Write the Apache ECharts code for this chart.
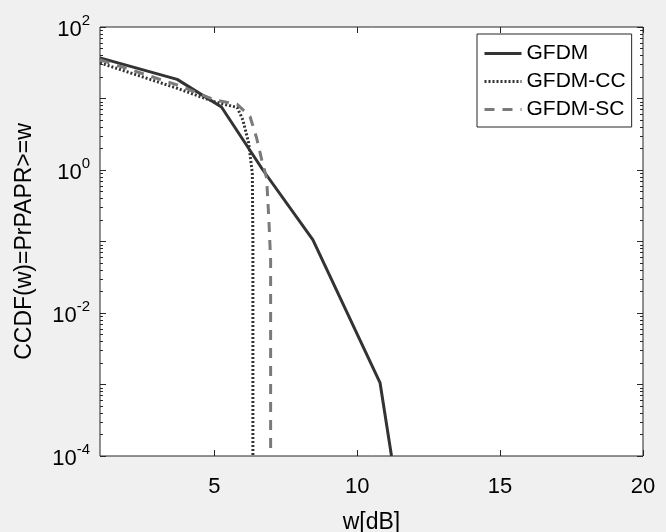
<!DOCTYPE html>
<html>
<head>
<meta charset="utf-8">
<script src="https://cdn.jsdelivr.net/npm/echarts@6/dist/echarts.min.js"></script>
<style>
html,body{margin:0;padding:0;background:#f0f0f0;}
#chart{width:666px;height:532px;}
</style>
</head>
<body>
<div id="chart"></div>
<script>
// ---- data ----
const seriesNames = ['GFDM', 'GFDM-CC', 'GFDM-SC'];
const xGFDM = [1, 3.7, 5.25, 6.7, 8.45, 10.8, 11.2];
const yGFDM = [37, 18.5, 7.6, 1.0, 0.105, 0.00105, 0.0001];
const xCC = [1, 3.7, 5.0, 5.8, 6.0, 6.2, 6.33, 6.35, 6.35];
const yCC = [31.5, 13.9, 9.0, 7.5, 5.0, 2.4, 0.9, 0.1, 0.0001];
const xSC = [1, 3.7, 5.0, 5.8, 6.25, 6.48, 6.66, 6.83, 6.91, 6.97, 6.97];
const ySC = [34.8, 15.5, 9.6, 8.3, 5.6, 2.8, 1.38, 0.77, 0.2, 0.055, 0.0001];
const xTicks = [5, 10, 15, 20];
const yLabelTicks = [1e-4, 1e-2, 1, 100];
const yMajorTicks = [1e-4, 1e-3, 1e-2, 1e-1, 1, 10, 100];
const yMinorTicks = [];
for (let e = -4; e < 2; e++) {
  for (let m = 2; m <= 9; m++) yMinorTicks.push(m * Math.pow(10, e));
}

const FONT = 'Liberation Sans';
const AX = '#262626';
const TXT = '#000';
const zip = (xs, ys) => xs.map((x, i) => [x, ys[i]]);

const chart = echarts.init(document.getElementById('chart'), null, {renderer: 'canvas'});

function yAxisDef(pos, ticks, len, labels) {
  return {
    type: 'log', logBase: 10, min: 1e-4, max: 100, position: pos,
    axisLine: {show: false},
    axisTick: {show: true, inside: true, length: len, customValues: ticks, lineStyle: {color: AX, width: 1}},
    axisLabel: labels ? {
      show: true, customValues: yLabelTicks, margin: 10,
      formatter: v => '{b|10}{s|' + Math.round(Math.log10(v)) + '}',
      rich: {
        b: {fontSize: 22, fontFamily: FONT, color: TXT, lineHeight: 28, verticalAlign: 'bottom'},
        s: {fontSize: 15, fontFamily: FONT, color: TXT, lineHeight: 28, verticalAlign: 'top'}
      }
    } : {show: false},
    splitLine: {show: false},
    minorTick: {show: false}
  };
}

const yAxes = [
  Object.assign(yAxisDef('left', yMajorTicks, 6, true), {
    name: 'CCDF(w)=PrPAPR>=w', nameLocation: 'middle', nameGap: 64, nameRotate: 90,
    nameTextStyle: {fontSize: 23, fontFamily: FONT, color: TXT}
  }),
  yAxisDef('left', yMinorTicks, 3, false),
  yAxisDef('right', yMajorTicks, 6, false),
  yAxisDef('right', yMinorTicks, 3, false)
];

const option = {
  animation: false,
  backgroundColor: '#f0f0f0',
  grid: {left: 100, right: 23, top: 27, bottom: 76, outerBoundsMode: 'none', containLabel: false,
         show: true, backgroundColor: '#ffffff', borderColor: AX, borderWidth: 1},
  legend: {
    data: seriesNames, orient: 'vertical', left: 477, top: 34,
    itemWidth: 37, itemHeight: 14, itemGap: 7, padding: [9, 6, 7, 6],
    itemStyle: {opacity: 0},
    lineStyle: {width: 3},
    borderColor: AX, borderWidth: 1, backgroundColor: '#fff',
    textStyle: {fontSize: 21, fontFamily: FONT, color: TXT}
  },
  xAxis: [
    {
      type: 'value', min: 1, max: 20, position: 'bottom',
      axisLine: {show: false},
      axisTick: {show: true, inside: true, length: 6, customValues: xTicks, lineStyle: {color: AX}},
      axisLabel: {customValues: xTicks, margin: 20, fontSize: 22, fontFamily: FONT, color: TXT},
      splitLine: {show: false},
      name: 'w[dB]', nameLocation: 'middle', nameGap: 55,
      nameTextStyle: {fontSize: 23, fontFamily: FONT, color: TXT}
    },
    {
      type: 'value', min: 1, max: 20, position: 'top',
      axisLine: {show: false},
      axisTick: {show: true, inside: true, length: 6, customValues: xTicks, lineStyle: {color: AX}},
      axisLabel: {show: false},
      splitLine: {show: false}
    }
  ],
  yAxis: yAxes,
  series: [
    {name: 'GFDM', type: 'line', data: zip(xGFDM, yGFDM), symbol: 'none', showSymbol: false,
     lineStyle: {color: '#333333', width: 3}, itemStyle: {color: '#333333'}},
    {name: 'GFDM-CC', type: 'line', data: zip(xCC, yCC), symbol: 'none', showSymbol: false,
     lineStyle: {color: '#333333', width: 3, type: [2, 2]}, itemStyle: {color: '#333333'}},
    {name: 'GFDM-SC', type: 'line', data: zip(xSC, ySC), symbol: 'none', showSymbol: false,
     lineStyle: {color: '#7a7a7a', width: 3, type: [10, 8]}, itemStyle: {color: '#7a7a7a'}}
  ]
};
chart.setOption(option);
</script>
</body>
</html>
